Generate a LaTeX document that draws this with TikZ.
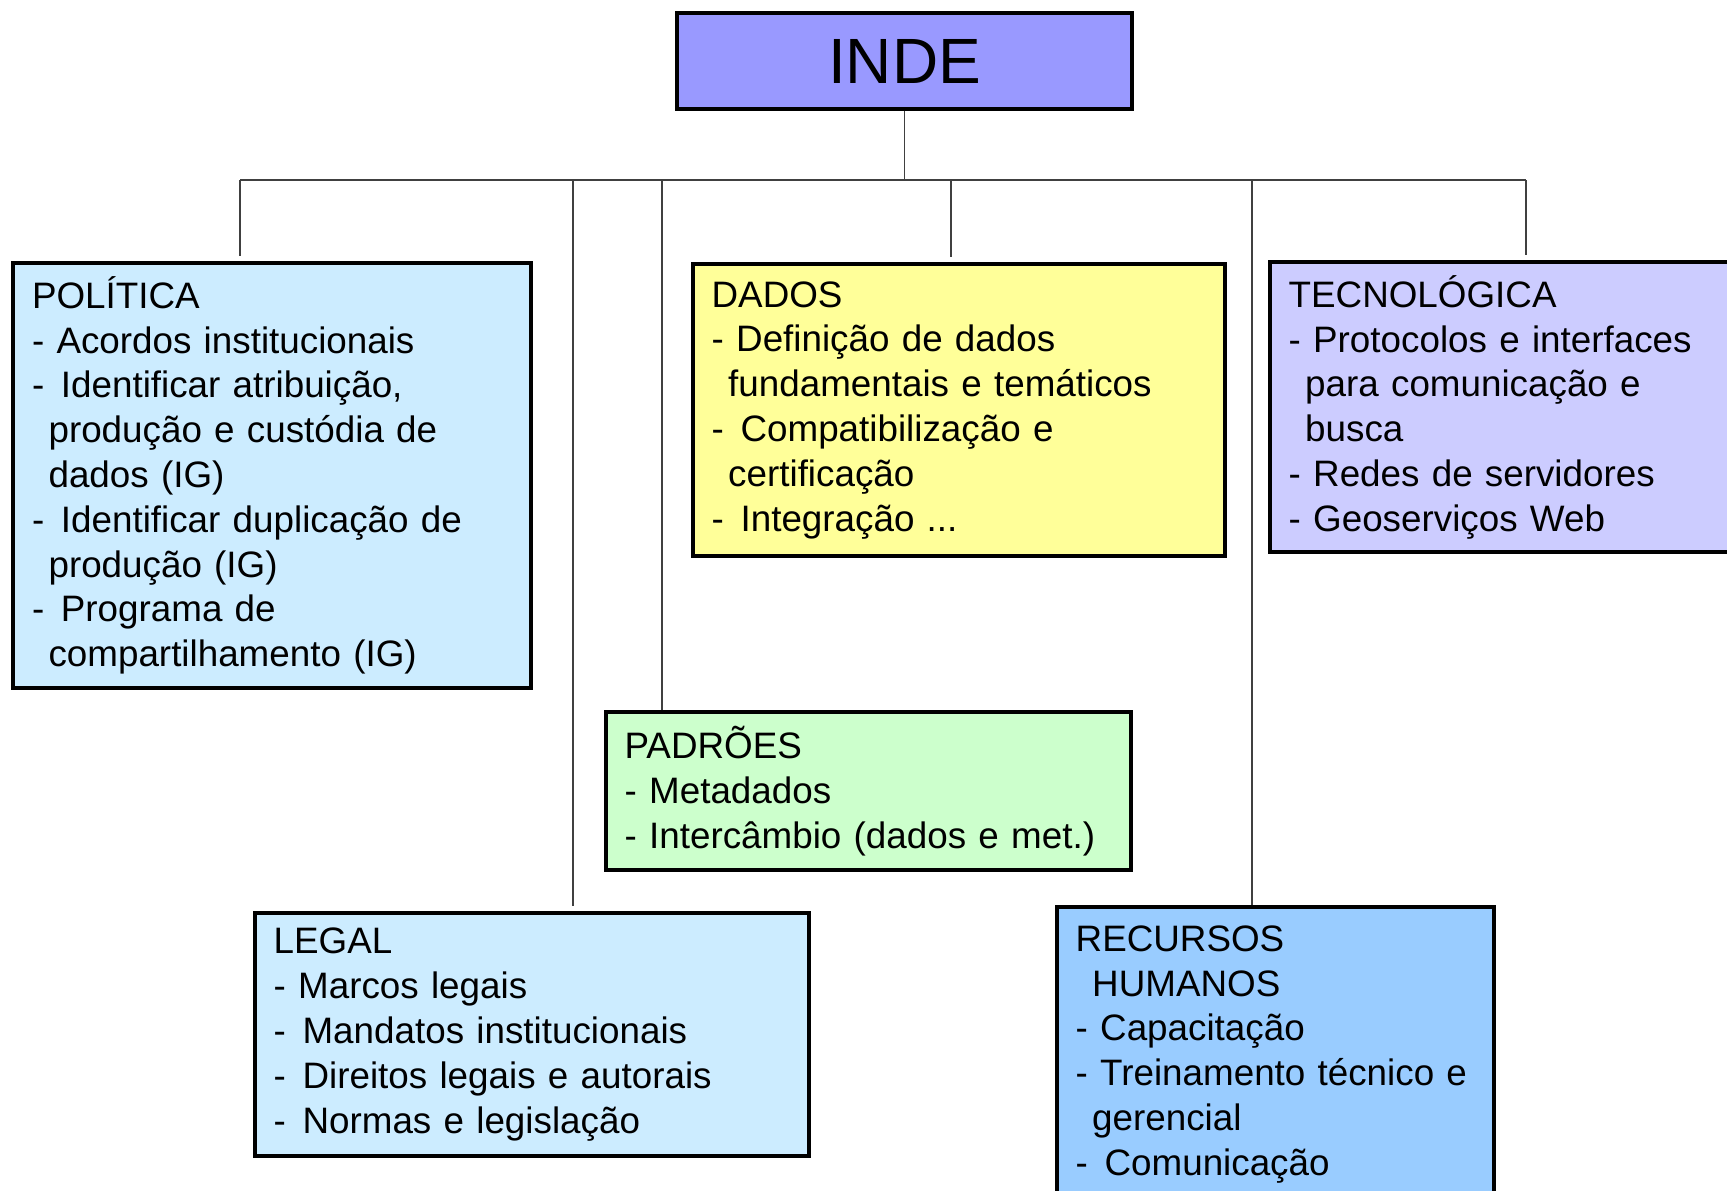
\documentclass[tikz,border=0pt]{standalone}
\usepackage{fontspec}
\setmainfont{Liberation Sans}

\definecolor{indefill}{RGB}{153,153,255}
\definecolor{polfill}{RGB}{204,236,255}
\definecolor{dadosfill}{RGB}{255,255,153}
\definecolor{tecfill}{RGB}{204,204,255}
\definecolor{padfill}{RGB}{204,255,204}
\definecolor{rhfill}{RGB}{153,204,255}
\definecolor{linkgray}{RGB}{64,64,64}

\tikzset{every picture/.style={line width=0.75pt}}
\tikzset{
  blockbox/.style={draw=black, line width=3pt, anchor=north west, align=left,
    inner xsep=14pt, inner ysep=10pt, font=\fontsize{27.6}{33.6}\selectfont},
  link/.style={draw=linkgray, line width=1pt}
}
\newcommand{\ind}{\hspace*{0.45em}}
\newcommand{\dsh}{- \hspace*{0.12em}}

\begin{document}
\begin{tikzpicture}[x=0.75pt,y=0.75pt,yscale=-1,xscale=1]
\useasboundingbox (0,0) rectangle (1727,1190);
\fill[white] (0,0) rectangle (1727,1190);
\clip (0,0) rectangle (1727,1190);

%Shape: Rectangle INDE
\node[draw=black, line width=2.5pt, fill=indefill, minimum width=341.25pt, minimum height=72pt,
  font=\fontsize{48}{56}\selectfont] (inde) at (904.5,61) {INDE};

%Shape: Rectangle POLITICA
\node[blockbox, fill=polfill, minimum width=388.5pt, minimum height=318pt, text width=360pt] (pol) at (11,261)
  {POL\'ITICA\\- Acordos institucionais\\\dsh Identificar atribui\c{c}\~ao,\\\ind produ\c{c}\~ao e cust\'odia de\\\ind dados (IG)\\\dsh Identificar duplica\c{c}\~ao de\\\ind produ\c{c}\~ao (IG)\\\dsh Programa de\\\ind compartilhamento (IG)};

%Shape: Rectangle DADOS
\node[blockbox, fill=dadosfill, minimum width=399pt, minimum height=218.25pt, text width=371pt, inner ysep=13pt] (dados) at (691,262)
  {DADOS\\- Defini\c{c}\~ao de dados\\\ind fundamentais e tem\'aticos\\\dsh Compatibiliza\c{c}\~ao e\\\ind certifica\c{c}\~ao\\\dsh Integra\c{c}\~ao ...};

%Shape: Rectangle TECNOLOGICA
\node[blockbox, fill=tecfill, minimum width=360pt, minimum height=216pt, text width=332pt] (tec) at (1268,260)
  {TECNOL\'OGICA\\- Protocolos e interfaces\\\ind para comunica\c{c}\~ao e\\\ind busca\\- Redes de servidores\\- Geoservi\c{c}os Web};

%Shape: Rectangle PADROES
\node[blockbox, fill=padfill, minimum width=393.75pt, minimum height=118.5pt, text width=365.75pt] (pad) at (604,710)
  {PADR\~OES\\- Metadados\\- Interc\^ambio (dados e met.)};

%Shape: Rectangle LEGAL
\node[blockbox, fill=polfill, minimum width=415.5pt, minimum height=182.25pt, text width=387.5pt, inner ysep=11pt] (legal) at (253,911)
  {LEGAL\\- Marcos legais\\\dsh Mandatos institucionais\\\dsh Direitos legais e autorais\\\dsh Normas e legisla\c{c}\~ao};

%Shape: Rectangle RECURSOS HUMANOS
\node[blockbox, fill=rhfill, minimum width=327.75pt, minimum height=213.75pt, text width=299.75pt, inner ysep=14pt] (rh) at (1055,905)
  {RECURSOS\\\ind HUMANOS\\- Capacita\c{c}\~ao\\- Treinamento t\'ecnico e\\\ind gerencial\\\dsh Comunica\c{c}\~ao};

%Straight Lines: bus
\coordinate (tPol) at (240,180);
\coordinate (tLeg) at (573,180);
\coordinate (tPad) at (662,180);
\coordinate (tDad) at (951,180);
\coordinate (tRH) at (1252,180);
\coordinate (tTec) at (1526,180);
\draw[link] (inde.south) -- (inde.south |- tPol);
\draw[link] (tPol) -- (tTec);

%Straight Lines: drops
\draw[link, shorten >=4pt] (tPol) -- (tPol |- pol.north);
\draw[link, shorten >=4pt] (tLeg) -- (tLeg |- legal.north);
\draw[link] (tPad) -- (tPad |- pad.north);
\draw[link, shorten >=4pt] (tDad) -- (tDad |- dados.north);
\draw[link] (tRH) -- (tRH |- rh.north);
\draw[link, shorten >=4pt] (tTec) -- (tTec |- tec.north);
\end{tikzpicture}
\end{document}
